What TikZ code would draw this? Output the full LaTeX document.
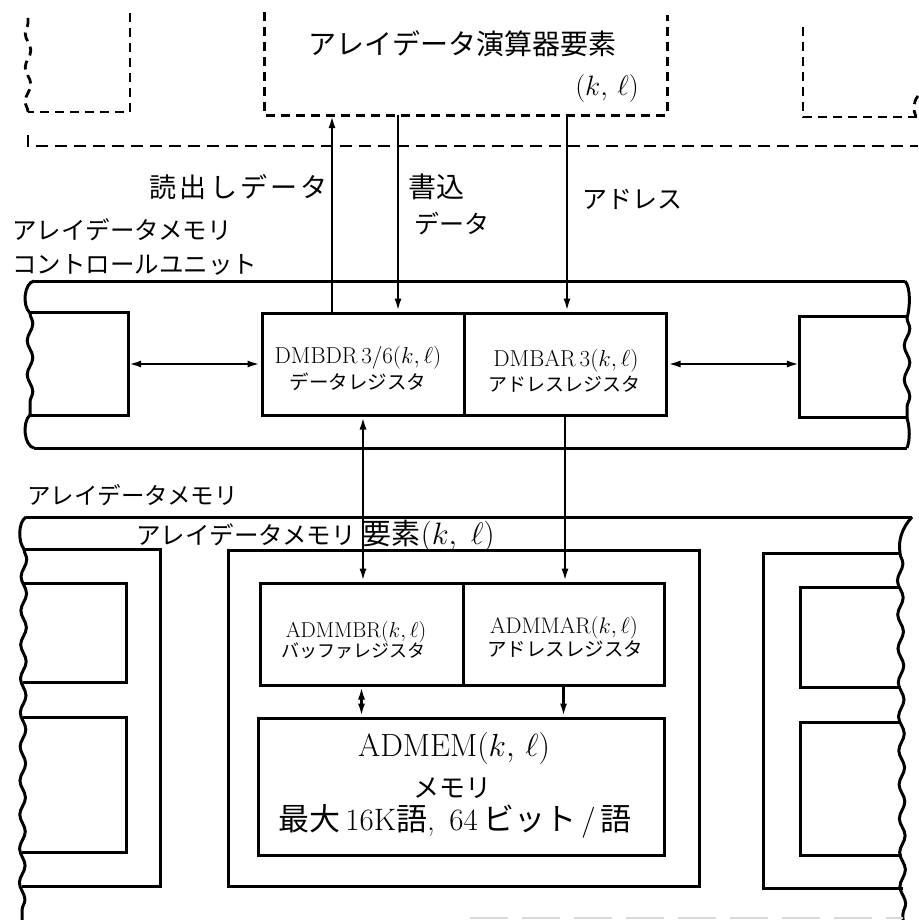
\documentclass[tikz,border=0pt]{standalone}
\RequirePackage{fix-cm}
\usepackage{fontspec}
\newfontfamily\jp{Noto Sans CJK JP}
\usetikzlibrary{arrows.meta,decorations.pathmorphing}
\newcommand\setfs[1]{\fontsize{#1}{#1}\selectfont}
\tikzset{
  box/.style={draw, line width=3pt, inner sep=0pt},
  area/.style={inner sep=0pt},
  ln/.style={line width=3pt},
  dsh/.style={line width=2.8pt, dash pattern=on 9pt off 6pt},
  arr/.style={line width=2.5pt},
  tip/.style={-{Latex[length=13pt,width=7pt]}},
  tiptwo/.style={{Latex[length=13pt,width=7pt]}-{Latex[length=13pt,width=7pt]}},
  wave/.style={decorate, decoration={snake, amplitude=2.8pt, segment length=34pt}},
  lbl/.style={inner sep=0pt},
}
\begin{document}
\begin{tikzpicture}[x=1pt,y=-1pt]
\useasboundingbox (0,0) rectangle (918,920);
\fill[white] (0,0) rectangle (918,920);

% ---------- top: array data processor elements (dashed) ----------
\node[area, minimum width=402pt, minimum height=103pt] (pe) at (466,63.5) {};
\draw[dsh] (pe.north west) -- (pe.south west) -- (pe.south east) -- ([yshift=-3pt]pe.north east);
\draw[dsh] (130,13) -- (130,112) -- (28,112);
\draw[dsh, wave] (28,112) -- (28,14);
\draw[dsh] (803,27) -- (803,117) -- (918,117);
\draw[dsh] (918,96) .. controls (913,102) and (913,110) .. (916,117);
\draw[line width=2.2pt, dash pattern=on 12pt off 7pt] (28,135) -- (28,146) -- (918,146);

\node[lbl] (tpe) at (462,44) {\jp\setfs{28}アレイデータ演算器要素};
\node[lbl] (tpekl) at (607,89) {\setfs{28}$(k,\,\ell)$};

% ---------- control unit ----------
\node[lbl, anchor=west] (tcu1) at (12,230) {\jp\setfs{24.5}アレイデータメモリ};
\node[lbl, anchor=west] (tcu2) at (12,265) {\jp\setfs{24.5}コントロールユニット};

\draw[ln] (34,281) -- (905,281);
\draw[ln] (34,448) -- (907,448);
\draw[ln] (34,281) .. controls (24,283) and (22,306) .. (30,313);
\draw[ln, wave] (30,313) -- (30,415);
\draw[ln] (30,415) .. controls (22,422) and (24,446) .. (34,448);
\draw[ln] (905,281) .. controls (911,288) and (910,308) .. (907,318);
\draw[ln, wave] (907,318) -- (907,418);
\draw[ln] (907,418) .. controls (910,428) and (910,440) .. (907,448);

\node[area, minimum width=98pt, minimum height=102pt] (ls) at (79,364) {};
\draw[ln] (ls.north west) -- (ls.north east) -- (ls.south east) -- (ls.south west);
\node[area, minimum width=107pt, minimum height=100pt] (rs) at (853.5,367) {};
\draw[ln] (rs.north east) -- (rs.north west) -- (rs.south west) -- (rs.south east);

\node[box, minimum width=202pt, minimum height=102pt] (dbdr) at (363,364) {};
\node[box, minimum width=202pt, minimum height=102pt] (dbar) at (565,364) {};
\node[lbl] (dbdr1) at (358,358) {\setfs{23}DMBDR\,3/6$(k,\ell)$};
\node[lbl] (dbdr2) at (358,382) {\jp\setfs{19.5}データレジスタ};
\node[lbl] (dbar1) at (566,361) {\setfs{23}DMBAR\,3$(k,\ell)$};
\node[lbl] (dbar2) at (564,384) {\jp\setfs{19}アドレスレジスタ};

\coordinate (xr) at (332,0);
\coordinate (xw) at (398,0);
\coordinate (xa) at (567,0);
\draw[arr, tip] (xr |- dbdr.north) -- (xr |- pe.south);
\draw[arr, tip] (xw |- pe.south) -- (xw |- dbdr.north);
\draw[arr, tip] (xa |- pe.south) -- (xa |- dbar.north);

\node[lbl, anchor=east] (trd) at (328,187) {\jp\setfs{27}\addfontfeature{LetterSpace=12}読出しデータ};
\node[lbl, anchor=west] (twr1) at (408,187) {\jp\setfs{28}書込};
\node[lbl, anchor=west] (twr2) at (414,224) {\jp\setfs{25}データ};
\node[lbl, anchor=west] (tad) at (582,199) {\jp\setfs{25}アドレス};

\draw[arr, tiptwo] (ls.east) -- (dbdr.west);
\draw[arr, tiptwo] (dbar.east) -- (dbar.east -| rs.west);

% ---------- array data memory ----------
\node[lbl, anchor=west] (tam) at (27,495) {\jp\setfs{23.5}アレイデータメモリ};

\draw[ln] (26,517) -- (912,517);
\draw[ln] (26,517) .. controls (18,522) and (18,542) .. (24,549);
\draw[ln, wave] (24,549) -- (22,920);
\draw[ln] (912,517) .. controls (902,528) and (898,540) .. (900,553);
\draw[ln, wave] (900,553) -- (903,920);
\draw[gray!30, line width=1.4pt, dash pattern=on 38pt off 14pt] (470,918) -- (903,918);

\node[lbl, anchor=west] (tame) at (136,536) {\jp\setfs{24.5}アレイデータメモリ\hspace{7pt}\setfs{29}要素\rmfamily\setfs{31}$(k,\;\ell)$};

\node[box, minimum width=471pt, minimum height=336pt] (elem) at (463.5,718) {};

\draw[ln] (24,549) -- (160,549) -- (160,886) -- (22,886);
\draw[ln] (24,583) -- (126,583) -- (126,682) -- (23,682);
\draw[ln] (23,717) -- (126,717) -- (126,852) -- (22,852);
\draw[ln] (900,553) -- (763,553) -- (763,888) -- (903,888);
\draw[ln] (900,587) -- (800,587) -- (800,687) -- (901,687);
\draw[ln] (901,722) -- (800,722) -- (800,855) -- (902,855);

\node[box, minimum width=203pt, minimum height=102pt] (mbr) at (361.5,634) {};
\node[box, minimum width=201pt, minimum height=102pt] (mar) at (563.5,634) {};
\node[box, minimum width=406pt, minimum height=137pt] (mem) at (461,786.5) {};

\node[lbl] (mbr1) at (356,632) {\setfs{21.5}ADMMBR$(k,\ell)$};
\node[lbl] (mbr2) at (353,651) {\jp\setfs{18}バッファレジスタ};
\node[lbl] (mar1) at (564,628) {\setfs{22.5}ADMMAR$(k,\ell)$};
\node[lbl] (mar2) at (565,649) {\jp\setfs{19.5}アドレスレジスタ};
\node[lbl] (mem1) at (454,748) {\setfs{32}\addfontfeature{LetterSpace=4}ADMEM$(k,\,\ell)$};
\node[lbl] (mem2) at (452,788) {\jp\setfs{26}メモリ};
\node[lbl] (mem3) at (455,821) {\setfs{31}{\jp 最大}\,16K{\jp 語}, \,64\,{\jp ビット}\,/\,{\jp 語}};

\draw[arr, tiptwo] (dbdr.south) -- (dbdr.south |- mbr.north);
\draw[arr, tip] (dbar.south) -- (dbar.south |- mar.north);
\draw[arr, tiptwo] (mbr.south) -- (mbr.south |- mem.north);
\draw[arr, tip] (mar.south) -- (mar.south |- mem.north);
\end{tikzpicture}
\end{document}
